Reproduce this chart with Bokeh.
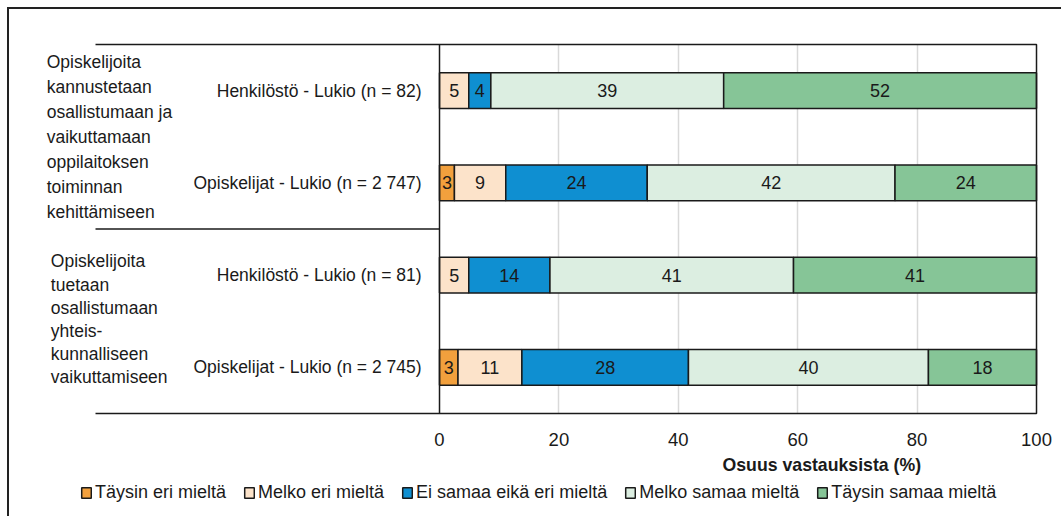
from bokeh.plotting import figure
from bokeh.layouts import column
from bokeh.models import Range1d, FixedTicker, Legend, LegendItem, ColumnDataSource, Title
from bokeh.core.properties import value
from bokeh.embed import file_html
from bokeh.resources import INLINE

# ---- data ----
rows = [
    "Henkilöstö - Lukio (n = 82)",
    "Opiskelijat - Lukio (n = 2 747)",
    "Henkilöstö - Lukio (n = 81)",
    "Opiskelijat - Lukio (n = 2 745)",
]
groups = [
    "Opiskelijoita\nkannustetaan\nosallistumaan ja\nvaikuttamaan\noppilaitoksen\ntoiminnan\nkehittämiseen",
    "Opiskelijoita\ntuetaan\nosallistumaan\nyhteis-\nkunnalliseen\nvaikuttamiseen",
]
categories = [
    "Täysin eri mieltä",
    "Melko eri mieltä",
    "Ei samaa eikä eri mieltä",
    "Melko samaa mieltä",
    "Täysin samaa mieltä",
]
taysin_eri = [0.0, 2.5, 0.0, 3.1]
melko_eri = [4.9, 8.6, 4.9, 10.7]
ei_samaa = [3.7, 23.7, 13.6, 27.9]
melko_samaa = [39.0, 41.5, 40.8, 40.2]
taysin_samaa = [52.4, 23.7, 40.7, 18.1]
x_ticks = [0, 20, 40, 60, 80, 100]
x_title = "Osuus vastauksista (%)"

series = [taysin_eri, melko_eri, ei_samaa, melko_samaa, taysin_samaa]
colors = ["#F2A03D", "#FCE3CA", "#0F8FD1", "#DCEEE1", "#86C597"]

FONT = "Liberation Sans"
TXT = "#1a1a1a"

n = len(rows)
ypos = [n - i - 0.5 for i in range(n)]

# layout: 5.97 px per % horizontally, 92.25 px per row vertically
PX, PY = 5.97, 92.25
x_start, x_end = -66.5, -66.5 + 996 / PX
y_start, y_end = -3 / PY, n + 3 / PY

p = figure(width=1054, height=469, x_range=Range1d(x_start, x_end), y_range=Range1d(y_start, y_end),
           output_backend="svg", toolbar_location=None, y_axis_location=None,
           min_border_left=33, min_border_right=25, min_border_top=32, min_border_bottom=62)
p.outline_line_color = None
p.background_fill_color = "white"

# grid
p.xgrid.ticker = FixedTicker(ticks=x_ticks[1:-1])
p.xgrid.grid_line_color = "#d9d9d9"
p.xgrid.grid_line_width = 1.5
if "cross_bounds" in p.xgrid[0].properties():
    p.xgrid.cross_bounds = (0, n)
p.ygrid.visible = False

# x axis
xa = p.xaxis[0]
xa.ticker = FixedTicker(ticks=x_ticks)
xa.major_tick_out = 0
xa.major_tick_in = 0
xa.minor_tick_out = 0
xa.minor_tick_in = 0
xa.axis_line_color = None
xa.major_label_standoff = 16
xa.major_label_text_font = FONT
xa.major_label_text_font_size = "18.5px"
xa.major_label_text_color = TXT

# stacked bars
left = [0.0] * n
for cat, vals, col in zip(categories, series, colors):
    ys, ls, rs, mids, labs = [], [], [], [], []
    for i in range(n):
        l = left[i]
        r = l + vals[i]
        left[i] = r
        if vals[i] > 0:
            ys.append(ypos[i]); ls.append(l); rs.append(r)
            mids.append((l + r) / 2); labs.append(str(int(vals[i] + 0.5)))
    src = ColumnDataSource(dict(y=ys, left=ls, right=rs, mid=mids, lab=labs))
    p.hbar(y="y", left="left", right="right", height=0.39, source=src,
           fill_color=col, line_color=TXT, line_width=1.5)
    p.text(x="mid", y="y", text="lab", source=src, text_align="center", text_baseline="middle",
           text_font=value(FONT), text_font_size="18px", text_color=TXT)

# plot-area box
p.quad(left=[0], right=[100], bottom=[0], top=[n], fill_color=None, line_color=TXT, line_width=1.5)

# category-axis separators
sep_y = [0, n / 2, n]
p.segment(x0=[-344 / PX] * 3, x1=[0] * 3, y0=sep_y, y1=sep_y, line_color=TXT, line_width=1.5)

# row labels
p.text(x=[-18 / PX] * n, y=ypos, text=rows, text_align="right", text_baseline="middle",
       text_font=value(FONT), text_font_size="17.5px", text_color=TXT)

# group labels
p.text(x=[-65.8], y=[3.0], text=[groups[0]], text_align="left", text_baseline="middle",
       text_font=value(FONT), text_font_size="17.5px", text_color=TXT, text_line_height=1.25)
p.text(x=[-65.1], y=[1.02], text=[groups[1]], text_align="left", text_baseline="middle",
       text_font=value(FONT), text_font_size="17.5px", text_color=TXT, text_line_height=1.16)

# axis title
t = Title(text=x_title, align="left", offset=680, standoff=8,
          text_font=FONT, text_font_size="17.7px", text_font_style="bold", text_color=TXT)
p.add_layout(t, "below")

# legend strip
q = figure(width=1054, height=40, x_range=Range1d(0, 1), y_range=Range1d(0, 1),
           output_backend="svg", toolbar_location=None, x_axis_location=None, y_axis_location=None,
           min_border_left=0, min_border_right=0, min_border_top=0, min_border_bottom=0)
q.outline_line_color = None
q.grid.visible = False
nan = float("nan")
items = []
for cat, col in zip(categories, colors):
    # legend proxies with no drawable geometry
    r = q.hbar(y=[nan], left=[nan], right=[nan], height=0.5, fill_color=col, line_color=TXT, line_width=1.5)
    items.append(LegendItem(label=cat, renderers=[r]))
legend = Legend(items=items, orientation="horizontal", location=(38, 15),
                padding=0, margin=0, border_line_color=None, background_fill_alpha=0,
                glyph_width=12, glyph_height=13, label_standoff=3, spacing=17,
                label_text_font=FONT, label_text_font_size="18px", label_text_color=TXT)
q.add_layout(legend)

layout = column(p, q, spacing=0, margin=(9, 0, 0, 9),
                styles={"box-shadow": "-2px -2px 0 0 #222"})
open("out.html", "w").write(file_html(layout, INLINE))
